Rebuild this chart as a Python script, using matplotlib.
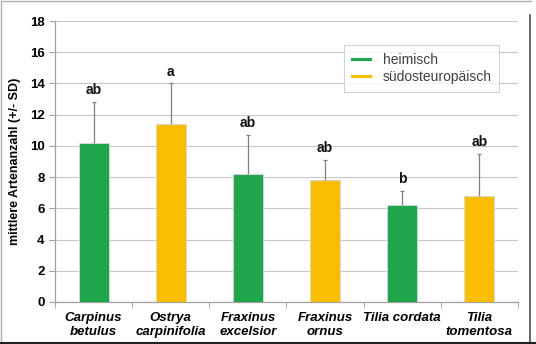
import matplotlib.pyplot as plt
import numpy as np
from matplotlib.lines import Line2D

species = ["Carpinus\nbetulus", "Ostrya\ncarpinifolia", "Fraxinus\nexcelsior",
           "Fraxinus\nornus", "Tilia cordata", "Tilia\ntomentosa"]
means = [10.2, 11.4, 8.2, 7.8, 6.2, 6.8]
sd = [2.6, 2.6, 2.5, 1.3, 0.9, 2.7]
origin = ["heimisch", "südosteuropäisch", "heimisch", "südosteuropäisch",
          "heimisch", "südosteuropäisch"]
letters = ["ab", "a", "ab", "ab", "b", "ab"]

colors = {"heimisch": "#1fa64a", "südosteuropäisch": "#fbbd00"}

plt.rcParams['font.family'] = ['Liberation Sans', 'DejaVu Sans']

fig = plt.figure(figsize=(5.36, 3.44), dpi=100)
ax = fig.add_axes([55 / 536, 42 / 344, 463 / 536, 281 / 344])

x = np.arange(len(species))
bar_colors = [colors[o] for o in origin]
ax.bar(x, means, width=0.39, color=bar_colors, edgecolor="#d8d8d8",
       linewidth=0.6, zorder=3)
ax.errorbar(x, means, yerr=[np.zeros(len(sd)), sd], fmt="none",
            ecolor="#808080", elinewidth=0.9, capsize=1.5, capthick=0.9, zorder=2)

for xi, m, s, lab in zip(x, means, sd, letters):
    ax.text(xi, m + s + 0.3, lab, ha="center", va="bottom",
            fontsize=10, fontweight="bold", color="#111111")

ax.set_xlim(-0.5, len(species) - 0.5)
ax.set_ylim(0, 18)
ax.set_yticks(np.arange(0, 19, 2))
ax.yaxis.grid(True, color="#c8c8c8", linewidth=0.8, zorder=0)
ax.set_axisbelow(True)

ax.set_xticks(x)
ax.set_xticklabels(species, fontsize=9.5, fontweight="bold", style="italic",
                   linespacing=1.25)
ax.set_xticks(np.arange(-0.5, len(species)), minor=True)
ax.tick_params(axis="x", which="major", length=0, pad=7)
ax.tick_params(axis="x", which="minor", length=4, color="#a0a0a0")
ax.tick_params(axis="y", length=4, color="#a0a0a0", labelsize=9.5)
for t in ax.get_yticklabels():
    t.set_fontweight("bold")

ax.set_ylabel("mittlere Artenanzahl (+/- SD)", fontsize=9, fontweight="bold",
              labelpad=6)

for side in ("top", "right"):
    ax.spines[side].set_visible(False)
for side in ("left", "bottom"):
    ax.spines[side].set_color("#a0a0a0")
    ax.spines[side].set_linewidth(0.9)

handles = [Line2D([], [], color=colors[k], linewidth=2.2) for k in colors]
leg = ax.legend(handles, list(colors), loc="upper left",
                bbox_to_anchor=(0.625, 0.915), frameon=True, fancybox=False,
                fontsize=10, handlelength=1.3, handletextpad=0.9,
                borderpad=0.55, labelspacing=0.25, borderaxespad=0)
leg.get_frame().set_edgecolor("#c8c8c8")
leg.get_frame().set_linewidth(0.8)
for t in leg.get_texts():
    t.set_color("#404040")

# outer frame of the chart area
fig.add_artist(Line2D([0.002, 0.002, 0.99], [0.0, 0.997, 0.997],
                      transform=fig.transFigure, color="#b0b0b0", linewidth=1))
fig.add_artist(Line2D([530 / 536, 530 / 536], [0.0, 0.955],
                      transform=fig.transFigure, color="#505050", linewidth=1.2))
fig.add_artist(Line2D([0.0, 1.0], [0.004, 0.004],
                      transform=fig.transFigure, color="#222222", linewidth=1.5))

fig.savefig("out.png", dpi=100)
